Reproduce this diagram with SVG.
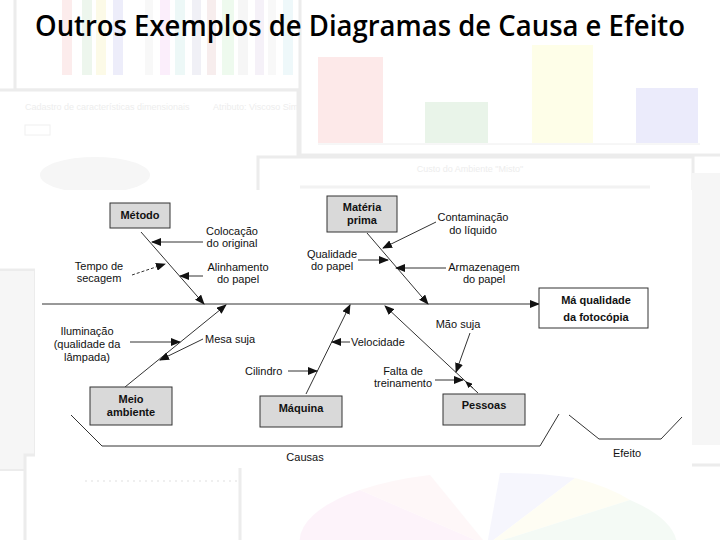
<svg xmlns="http://www.w3.org/2000/svg" width="720" height="540" viewBox="0 0 720 540">
<style>
.t{font-family:"Liberation Sans",Arial,sans-serif;font-size:11px;fill:#111;text-anchor:middle}
.tl{font-family:"Liberation Sans",Arial,sans-serif;font-size:11px;fill:#111}
.b{font-weight:bold}
.box{fill:#d9d9d9;stroke:#333;stroke-width:1}
.ln{stroke:#333;stroke-width:1;fill:none}
.bg{fill:#fff;stroke:#ececec;stroke-width:3}
.ft{font-family:"Liberation Sans",Arial,sans-serif;font-size:9px;fill:#ededed}
</style>
<defs>
<marker id="ah" markerUnits="userSpaceOnUse" markerWidth="10" markerHeight="8" refX="9" refY="4" orient="auto" viewBox="0 0 10 8">
<path d="M0 0 L10 4 L0 8 Z" fill="#111"/>
</marker>
<marker id="ahs" markerUnits="userSpaceOnUse" markerWidth="7" markerHeight="6" refX="6" refY="3" orient="auto" viewBox="0 0 7 6">
<path d="M0 0 L7 3 L0 6 Z" fill="#111"/>
</marker>
</defs>
<rect width="720" height="540" fill="#fff"/>
<g id="background">
<rect class="bg" x="15" y="-5" width="290" height="95"/>
<g opacity="0.5">
<rect x="62" y="0" width="10" height="75" fill="#fadada"/>
<rect x="82" y="0" width="10" height="75" fill="#dcefdc"/>
<rect x="96" y="0" width="10" height="75" fill="#fbf7d0"/>
<rect x="113" y="0" width="10" height="75" fill="#dcdcf6"/>
<rect x="145" y="0" width="8" height="75" fill="#f2f2f2"/>
<rect x="160" y="0" width="10" height="75" fill="#f8def8"/>
<rect x="175" y="0" width="10" height="75" fill="#dcf2f0"/>
<rect x="192" y="0" width="9" height="75" fill="#e2e2ee"/>
<rect x="207" y="0" width="9" height="75" fill="#f0dcdc"/>
<rect x="222" y="0" width="12" height="75" fill="#def6de"/>
<rect x="238" y="0" width="10" height="75" fill="#eeeeee"/>
<rect x="255" y="0" width="9" height="75" fill="#ece4f2"/>
<rect x="268" y="0" width="8" height="75" fill="#f2f2f2"/>
<rect x="283" y="0" width="10" height="75" fill="#def2f6"/>
</g>
<rect class="bg" x="300" y="-5" width="425" height="160"/>
<rect x="318" y="57" width="65" height="86" fill="#fde9e9"/>
<rect x="425" y="102" width="63" height="41" fill="#e9f4e9"/>
<rect x="532" y="45" width="61" height="98" fill="#fefee8"/>
<rect x="636" y="88" width="62" height="55" fill="#ebebfb"/>
<line x1="318" y1="144" x2="700" y2="144" stroke="#eeeeee"/>
<rect class="bg" x="-5" y="90" width="303" height="180"/>
<rect x="-5" y="270" width="40" height="200" fill="#f6f6f6" stroke="#ececec" stroke-width="2"/>
<text class="ft" x="25" y="110">Cadastro de características dimensionais</text>
<text class="ft" x="213" y="110">Atributo: Viscoso Sim</text>
<rect x="25" y="125" width="25" height="10" fill="none" stroke="#f0f0f0"/>
<ellipse cx="95" cy="175" rx="55" ry="18" fill="#f6f6f6"/>
<rect class="bg" x="258" y="157" width="435" height="60"/>
<text class="ft" x="470" y="172" text-anchor="middle">Custo do Ambiente "Misto"</text>
<line x1="300" y1="187" x2="650" y2="187" stroke="#f2f2f2" stroke-width="3"/>
<rect x="692" y="173" width="30" height="272" fill="#f6f6f6"/>
<rect class="bg" x="25" y="455" width="240" height="90"/>
<line x1="85" y1="481" x2="240" y2="481" stroke="#efefef" stroke-dasharray="2 4" stroke-width="2"/>
<rect class="bg" x="240" y="465" width="485" height="80"/>
<g opacity="0.45">
<path d="M487 545 L300 545 A190 70 0 0 1 360 490 Z" fill="#fbe6f6"/>
<path d="M487 545 L360 490 A190 70 0 0 1 430 475 Z" fill="#fdeef0"/>
<path d="M487 545 L500 473 A190 70 0 0 1 575 478 Z" fill="#ececfc"/>
<path d="M487 545 L575 478 A190 70 0 0 1 630 500 Z" fill="#fefce6"/>
<path d="M487 545 L630 500 A190 70 0 0 1 677 545 Z" fill="#e8f6ea"/>
</g>
<rect x="35" y="190" width="657" height="278" fill="#fff"/>
</g>
<text id="title" x="35" y="36" font-family="'Open Sans','Liberation Sans',sans-serif" font-size="28" font-weight="600" fill="#000" textLength="650" lengthAdjust="spacingAndGlyphs">Outros Exemplos de Diagramas de Causa e Efeito</text>
<g id="connectors">
<path class="ln" d="M42 304 H539" stroke-width="1.3" marker-end="url(#ah)"/>
<path class="ln" d="M141 232 L204 304" marker-end="url(#ah)"/>
<path class="ln" d="M203 242 H152" marker-end="url(#ah)"/>
<path class="ln" d="M203 276 H180" marker-end="url(#ah)"/>
<path class="ln" d="M132 275 L165 264" stroke-dasharray="3 2" marker-end="url(#ah)"/>
<path class="ln" d="M367 233 L428 304" marker-end="url(#ah)"/>
<path class="ln" d="M436 222 L383 248" marker-end="url(#ah)"/>
<path class="ln" d="M358 260 H388" marker-end="url(#ah)"/>
<path class="ln" d="M446 268 H396" marker-end="url(#ah)"/>
<path class="ln" d="M125 387 L226 305" marker-end="url(#ah)"/>
<path class="ln" d="M130 342 H180" marker-end="url(#ah)"/>
<path class="ln" d="M203 339 L160 360" marker-end="url(#ah)"/>
<path class="ln" d="M306 394 L350 305" marker-end="url(#ah)"/>
<path class="ln" d="M288 371 H317" marker-end="url(#ah)"/>
<path class="ln" d="M350 342 H332" marker-end="url(#ah)"/>
<path class="ln" d="M478 393 L385 306" marker-end="url(#ah)"/>
<path class="ln" d="M470 333 L456 372" marker-end="url(#ah)"/>
<path class="ln" d="M435 380 H463" marker-end="url(#ah)"/>
<path class="ln" d="M473 388 L466 382" marker-end="url(#ahs)"/>
<path class="ln" d="M71 415 L102 446 H540 L559 414"/>
<path class="ln" d="M569 415 L599 439 H661 L682 417"/>
</g>
<g id="metodo"><rect class="box" x="110" y="203" width="60" height="25"/><text class="t b" x="140" y="219">Método</text></g>
<g id="materia"><rect class="box" x="327" y="196" width="70" height="36"/><text class="t b" x="362" y="211">Matéria</text><text class="t b" x="362" y="224">prima</text></g>
<g id="meio"><rect class="box" x="90" y="387" width="82" height="38"/><text class="t b" x="131" y="403">Meio</text><text class="t b" x="131" y="416">ambiente</text></g>
<g id="maquina"><rect class="box" x="260" y="396" width="82" height="31"/><text class="t b" x="301" y="412">Máquina</text></g>
<g id="pessoas"><rect class="box" x="443" y="394" width="82" height="31"/><text class="t b" x="484" y="409">Pessoas</text></g>
<g id="efeito-box"><rect x="539" y="288" width="109" height="40" fill="#fff" stroke="#333"/><text class="t b" x="596" y="304" font-size="13">Má qualidade</text><text class="t b" x="596" y="321" font-size="13">da fotocópia</text></g>
<g id="labels">
<text class="t" x="232" y="235">Colocação</text><text class="t" x="232" y="247">do original</text>
<text class="t" x="99" y="270">Tempo de</text><text class="t" x="99" y="282">secagem</text>
<text class="t" x="238" y="271">Alinhamento</text><text class="t" x="238" y="283">do papel</text>
<text class="t" x="332" y="258">Qualidade</text><text class="t" x="332" y="270">do papel</text>
<text class="t" x="473" y="221">Contaminação</text><text class="t" x="473" y="234">do  líquido</text>
<text class="t" x="484" y="271">Armazenagem</text><text class="t" x="484" y="283">do papel</text>
<text class="t" x="87" y="335">Iluminação</text><text class="t" x="87" y="348">(qualidade da</text><text class="t" x="87" y="361">lâmpada)</text>
<text class="tl" x="205" y="343">Mesa suja</text>
<text class="tl" x="351" y="346">Velocidade</text>
<text class="tl" x="245" y="375">Cilindro</text>
<text class="t" x="458" y="328">Mão suja</text>
<text class="t" x="403" y="375">Falta de</text><text class="t" x="403" y="387">treinamento</text>
<text class="t" x="305" y="461">Causas</text>
<text class="t" x="627" y="457">Efeito</text>
</g>
</svg>
